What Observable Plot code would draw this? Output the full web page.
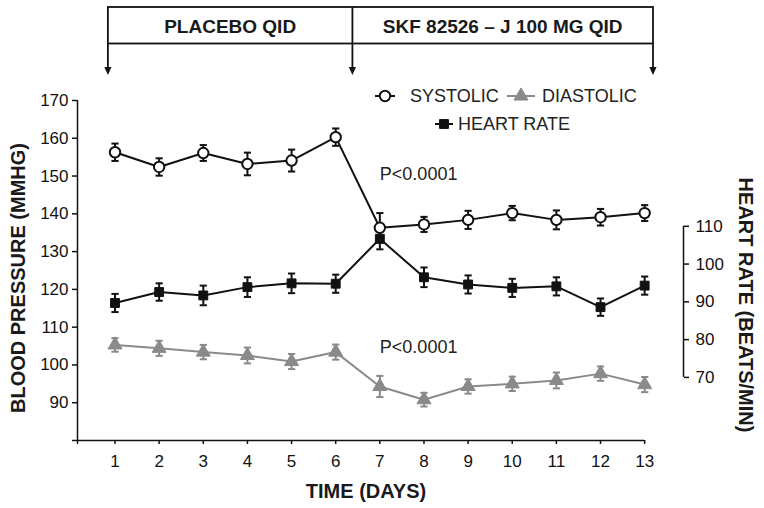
<!DOCTYPE html>
<html><head><meta charset="utf-8">
<script src="https://cdn.jsdelivr.net/npm/d3@7"></script>
<script src="https://cdn.jsdelivr.net/npm/@observablehq/plot@0.6"></script>
<style>
body{margin:0;background:#fff;font-family:"Liberation Sans",Arial,Helvetica,sans-serif;}
#chart svg{display:block;overflow:visible;}
</style></head><body><div id="chart"></div>
<script>
// ---- data ----
const days = [1,2,3,4,5,6,7,8,9,10,11,12,13];
const systolic    = [156.3,152.4,156.1,153.2,154.1,160.3,136.3,137.2,138.4,140.2,138.4,139.1,140.2];
const systolicErr = [2.3,2.3,2.1,3.0,2.9,2.3,3.9,2.0,2.4,1.9,2.5,2.2,2.1];
const diastolic    = [105.3,104.4,103.4,102.5,100.9,103.4,94.3,90.8,94.3,95.0,95.9,97.7,94.8];
const diastolicErr = [1.8,2.0,1.9,2.1,2.0,2.0,2.8,1.8,1.9,1.9,2.1,1.9,2.0];
const heartRate    = [89.7,92.6,91.7,93.9,94.9,94.8,106.7,96.5,94.6,93.7,94.1,88.6,94.3];
const heartRateErr = [2.4,2.3,2.6,2.6,2.6,2.4,2.8,2.6,2.4,2.4,2.4,2.3,2.4];
const bpTicks = [80,90,100,110,120,130,140,150,160,170];
const hrTicks = [70,80,90,100,110];
const phaseLabels = ["PLACEBO QID","SKF 82526 \u2013 J 100 MG QID"];
const phaseBounds = [0.85, 6.39, 13.2];
const pLabels = ["P<0.0001","P<0.0001"];
const pDays = [7,7];
const pValues = [150.4,104.6];
const seriesNames = ["SYSTOLIC","DIASTOLIC","HEART RATE"];

// ---- setup ----
const xDomain = [0.15, 13.88];
const hrOffset = 26.7; // heart-rate axis aligned onto blood-pressure scale
const GRAY = "#8a8a8a", INK = "#111";
const FONT = '"Liberation Sans", Arial, Helvetica, sans-serif';

const rows = days.map((d,i)=>({day:d,
  sys:systolic[i], sysE:systolicErr[i],
  dia:diastolic[i], diaE:diastolicErr[i],
  hr:heartRate[i]+hrOffset, hrE:heartRateErr[i]}));
const notes = pLabels.map((t,i)=>({t, day:pDays[i], v:pValues[i]}));

const capSymbol = {draw(ctx,size){const w=Math.sqrt(size/Math.PI);ctx.moveTo(-w,0);ctx.lineTo(w,0);}};
const errMarks = (k, e, color) => [
  Plot.ruleX(rows,{x:"day", y1:d=>d[k]-d[e], y2:d=>d[k]+d[e], stroke:color, strokeWidth:2}),
  Plot.dot(rows,{x:"day", y:d=>d[k]+d[e], symbol:capSymbol, r:3.6, fill:"none", stroke:color, strokeWidth:2}),
  Plot.dot(rows,{x:"day", y:d=>d[k]-d[e], symbol:capSymbol, r:3.6, fill:"none", stroke:color, strokeWidth:2})
];

const plot = Plot.plot({
  width:764, height:508,
  marginLeft:77, marginRight:81, marginTop:100, marginBottom:68,
  style:{fontSize:"17px", fontFamily:FONT, color:INK, background:"#fff"},
  x:{domain:xDomain},
  y:{domain:[80,170]},
  marks:[
    // axes
    Plot.ruleX([xDomain[0]],{strokeWidth:1.5}),
    Plot.ruleY([80],{x1:()=>xDomain[0], x2:()=>days[days.length-1], strokeWidth:1.5}),
    Plot.axisY({anchor:"left", ticks:bpTicks, tickSize:5, tickPadding:4, tickFormat:d=>d===80?"":d, label:null, strokeWidth:1.5}),
    Plot.axisX({ticks:[xDomain[0],...days], tickSize:4, tickPadding:10, tickFormat:d=>d>=1?d:"", label:null, strokeWidth:1.5}),
    Plot.ruleX([xDomain[1]],{y1:()=>hrTicks[0]+hrOffset, y2:()=>hrTicks[hrTicks.length-1]+hrOffset, strokeWidth:1.5}),
    Plot.axisY({anchor:"right", ticks:hrTicks.map(t=>t+hrOffset), tickFormat:d=>Math.round(d-hrOffset), tickSize:5, tickPadding:7, label:null, strokeWidth:1.5}),
    // error bars
    ...errMarks("dia","diaE",GRAY),
    ...errMarks("hr","hrE",INK),
    ...errMarks("sys","sysE",INK),
    // lines
    Plot.line(rows,{x:"day", y:"dia", stroke:GRAY, strokeWidth:2}),
    Plot.line(rows,{x:"day", y:"hr", stroke:INK, strokeWidth:2}),
    Plot.line(rows,{x:"day", y:"sys", stroke:INK, strokeWidth:2}),
    // markers
    Plot.dot(rows,{x:"day", y:"dia", symbol:"triangle", r:5.2, fill:GRAY, stroke:GRAY, strokeWidth:1}),
    Plot.dot(rows,{x:"day", y:"hr", symbol:"square", r:5, fill:INK, stroke:INK, strokeWidth:1}),
    Plot.dot(rows,{x:"day", y:"sys", symbol:"circle", r:5.2, fill:"white", stroke:INK, strokeWidth:2}),
    // annotations
    Plot.text(notes,{x:"day", y:"v", text:"t", textAnchor:"start", fontSize:18, fill:"#222"})
  ]
});
document.getElementById("chart").append(plot);

// ---- decorations: banner, legend, titles ----
const svg = d3.select(plot);
const xs = plot.scale("x");
const bx = phaseBounds.map(v=>xs.apply(v));
const bTop = 7, bBot = 43.5, bTip = 75;
const g = svg.append("g").attr("fill","none").attr("stroke",INK).attr("stroke-width",1.8);
g.append("rect").attr("x",bx[0]).attr("y",bTop).attr("width",bx[2]-bx[0]).attr("height",bBot-bTop);
g.append("line").attr("x1",bx[1]).attr("x2",bx[1]).attr("y1",bTop).attr("y2",bBot);
bx.forEach(x=>{
  g.append("line").attr("x1",x).attr("x2",x).attr("y1",bBot).attr("y2",bTip-6);
  g.append("path").attr("d",`M${x-3.6},${bTip-8}L${x+3.6},${bTip-8}L${x},${bTip}Z`).attr("fill",INK).attr("stroke","none");
});
phaseLabels.forEach((t,i)=>{
  svg.append("text").attr("x",(bx[i]+bx[i+1])/2).attr("y",bTop+(bBot-bTop)/2+1)
    .attr("text-anchor","middle").attr("dominant-baseline","central")
    .attr("font-weight","bold").attr("font-size",19).attr("fill","#1a1a1a").text(t);
});

// legend
const lg = svg.append("g").attr("font-size",18).attr("fill","#222").attr("text-anchor","start");
function legendItem(x1,x2,y,symType,fill,stroke,sw,r,label,tx){
  lg.append("line").attr("x1",x1).attr("x2",x2).attr("y1",y).attr("y2",y).attr("stroke",stroke).attr("stroke-width",2);
  lg.append("path").attr("transform",`translate(${(x1+x2)/2},${y})`)
    .attr("d",d3.symbol(symType, Math.PI*r*r)()).attr("fill",fill).attr("stroke",stroke).attr("stroke-width",sw);
  lg.append("text").attr("x",tx).attr("y",y).attr("text-anchor","start").attr("dominant-baseline","central").text(label);
}
legendItem(375,395,96,d3.symbolCircle,"white",INK,2,5.2,seriesNames[0],410);
legendItem(507,535,96,d3.symbolTriangle,GRAY,GRAY,1,5.2,seriesNames[1],542);
legendItem(435,453,124,d3.symbolSquare,INK,INK,1,5,seriesNames[2],458);

// axis titles
const tt = svg.append("g").attr("font-weight","bold").attr("font-size",20).attr("fill","#1a1a1a").attr("text-anchor","middle");
tt.append("text").attr("transform","translate(18,278) rotate(-90)").attr("dominant-baseline","central").text("BLOOD PRESSURE (MMHG)");
tt.append("text").attr("transform","translate(746,305) rotate(90)").attr("dominant-baseline","central").text("HEART RATE (BEATS/MIN)");
tt.append("text").attr("x",366).attr("y",491).attr("dominant-baseline","central").text("TIME (DAYS)");
</script></body></html>
